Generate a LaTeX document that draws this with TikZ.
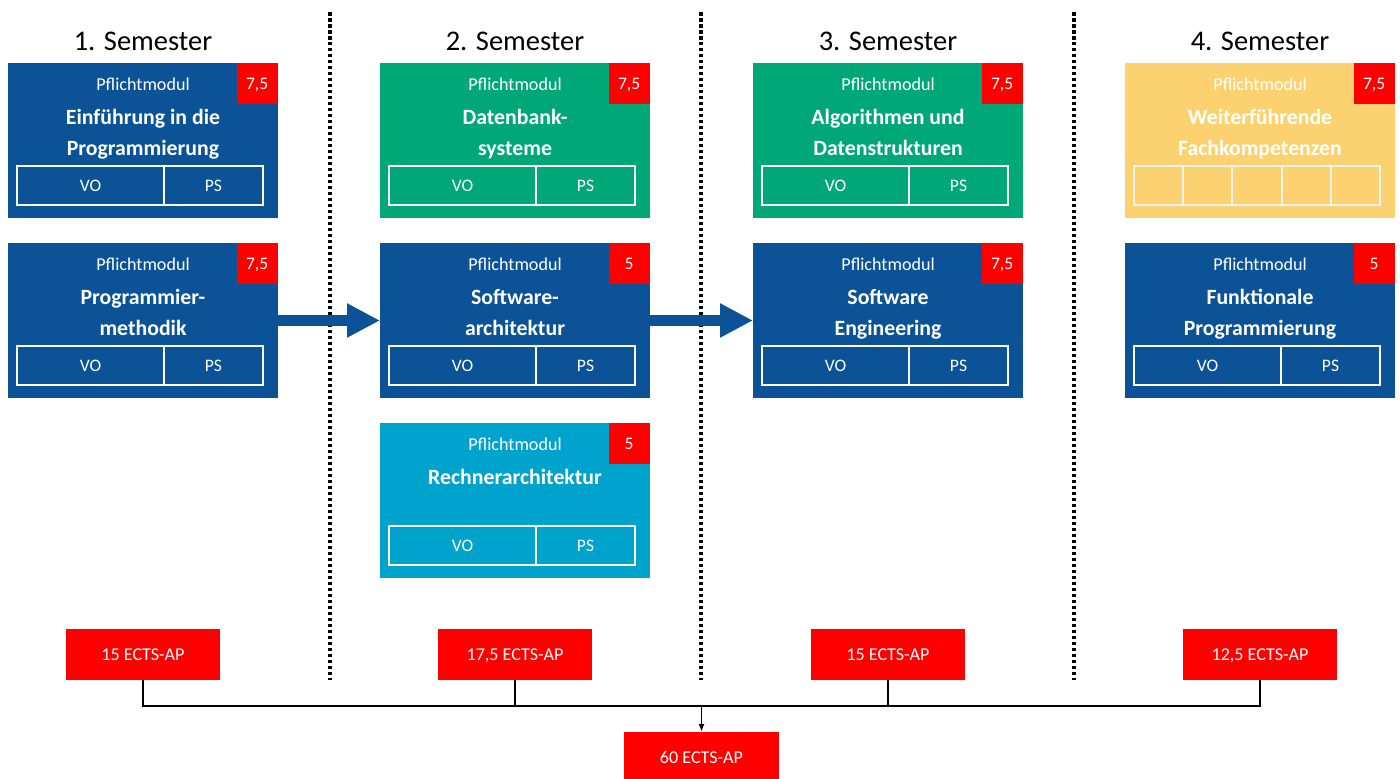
\documentclass[tikz,border=0pt]{standalone}
\usepackage{fontspec}
\setmainfont{Carlito}
\usepackage{tikz}
\usetikzlibrary{arrows.meta,calc}

\definecolor{uniBlue}{RGB}{11,83,150}
\definecolor{uniGreen}{RGB}{0,168,120}
\definecolor{uniCyan}{RGB}{0,163,204}
\definecolor{uniYellow}{RGB}{252,210,112}
\definecolor{cellGray}{RGB}{242,242,242}

\begin{document}
\begin{tikzpicture}[x=0.02cm, y=-0.02cm]
    \tikzstyle{modBox} = [rectangle, anchor=north, minimum width=5.4cm, minimum height=3.1cm, inner sep=0pt, outer sep=0pt]
    \tikzstyle{ectsBadge} = [rectangle, fill=red, text=white, anchor=north east, minimum size=0.82cm, inner sep=0pt, text depth=0pt, font=\fontsize{10}{12}\selectfont]
    \tikzstyle{pflText} = [text=white, anchor=base, inner sep=0pt, font=\fontsize{10.3}{12}\selectfont]
    \tikzstyle{titleText} = [text=white, anchor=base, inner sep=0pt, font=\bfseries\fontsize{12.4}{14}\selectfont]
    \tikzstyle{cellBox} = [rectangle, draw=white, line width=1.2pt, text=white, minimum height=0.78cm, inner sep=0pt, outer sep=0pt, font=\fontsize{10}{12}\selectfont]
    \tikzstyle{sumBox} = [rectangle, fill=red, text=white, minimum width=3.1cm, minimum height=1.02cm, inner sep=0pt, text depth=0pt, font=\fontsize{10.3}{12}\selectfont]
    \tikzstyle{semText} = [anchor=base, inner sep=0pt, font=\fontsize{16.2}{19}\selectfont]
    \tikzstyle{divLine} = [draw=black, line width=0.08cm, dash pattern=on 0.07cm off 0.05cm]
    \tikzstyle{bigArrow} = [draw=uniBlue, line width=0.22cm, -{Triangle[length=0.66cm, width=0.64cm]}]
    \tikzstyle{sumLine} = [draw=black, line width=0.9pt]
    \useasboundingbox (0,0) rectangle (1400,778);
    % semester headers and dividers
    \foreach \i/\x in {1/143,2/515,3/888,4/1260}
        \node[semText] (sem\i) at (\x,50) {\i. Semester};
    \foreach \x in {330,701,1074}
        \draw[divLine] (\x,12) -- (\x,680);
    % modules
    \foreach \n/\x/\y/\col/\ects/\ta/\tb in {
            m1a/143/63/uniBlue/{7{,}5}/{Einführung in die}/Programmierung,
            m1b/143/243/uniBlue/{7{,}5}/Programmier-/methodik,
            m2a/515/63/uniGreen/{7{,}5}/Datenbank-/systeme,
            m2b/515/243/uniBlue/5/Software-/architektur,
            m2c/515/423/uniCyan/5/Rechnerarchitektur/{},
            m3a/888/63/uniGreen/{7{,}5}/{Algorithmen und}/Datenstrukturen,
            m3b/888/243/uniBlue/{7{,}5}/Software/Engineering,
            m4a/1260/63/uniYellow/{7{,}5}/Weiterführende/Fachkompetenzen,
            m4b/1260/243/uniBlue/5/Funktionale/Programmierung} {
        \node[modBox, fill=\col] (\n) at (\x,\y) {};
        \node[ectsBadge] (\n-e) at (\n.north east) {\ects};
        \node[pflText] (\n-p) at ([yshift=-0.55cm]\n.north) {Pflichtmodul};
        \node[titleText] (\n-a) at ([yshift=-1.23cm]\n.north) {\ta};
        \node[titleText] (\n-b) at ([yshift=-1.85cm]\n.north) {\tb};
    }
    \foreach \n in {m1a,m1b,m2a,m2b,m2c,m3a,m3b,m4b} {
        \node[cellBox, anchor=north west, minimum width=2.94cm] (\n-vo)
            at ([xshift=0.18cm, yshift=-2.06cm]\n.north west) {VO};
        \node[cellBox, anchor=west, minimum width=1.98cm] (\n-ps) at (\n-vo.east) {PS};
    }
    \foreach \i in {1,...,5}
        \node[cellBox, draw=cellGray, anchor=north west, minimum width=0.984cm] (m4a-c\i)
            at ([xshift={0.18cm+(\i-1)*0.984cm}, yshift=-2.06cm]m4a.north west) {};
    \draw[bigArrow] (m1b.east) -- (m2b.west);
    \draw[bigArrow] (m2b.east) -- (m3b.west);
    % ECTS sums
    \foreach \i/\x/\pts in {1/143/15, 2/515/{17{,}5}, 3/888/15, 4/1260/{12{,}5}}
        \node[sumBox] (e\i) at (\x,654.5) {\pts{} ECTS-AP};
    \node[sumBox, anchor=north] (total) at (701.5,732) {60 ECTS-AP};
    \coordinate (bus) at (701.5,706);
    \draw[sumLine] (e1.south) |- (bus) -| (e4.south);
    \draw[sumLine] (e2.south) -- (e2.south |- bus);
    \draw[sumLine] (e3.south) -- (e3.south |- bus);
    \draw[sumLine, -{Latex[length=0.16cm, width=0.12cm]}] (bus) -- (total.north);
\end{tikzpicture}
\end{document}
